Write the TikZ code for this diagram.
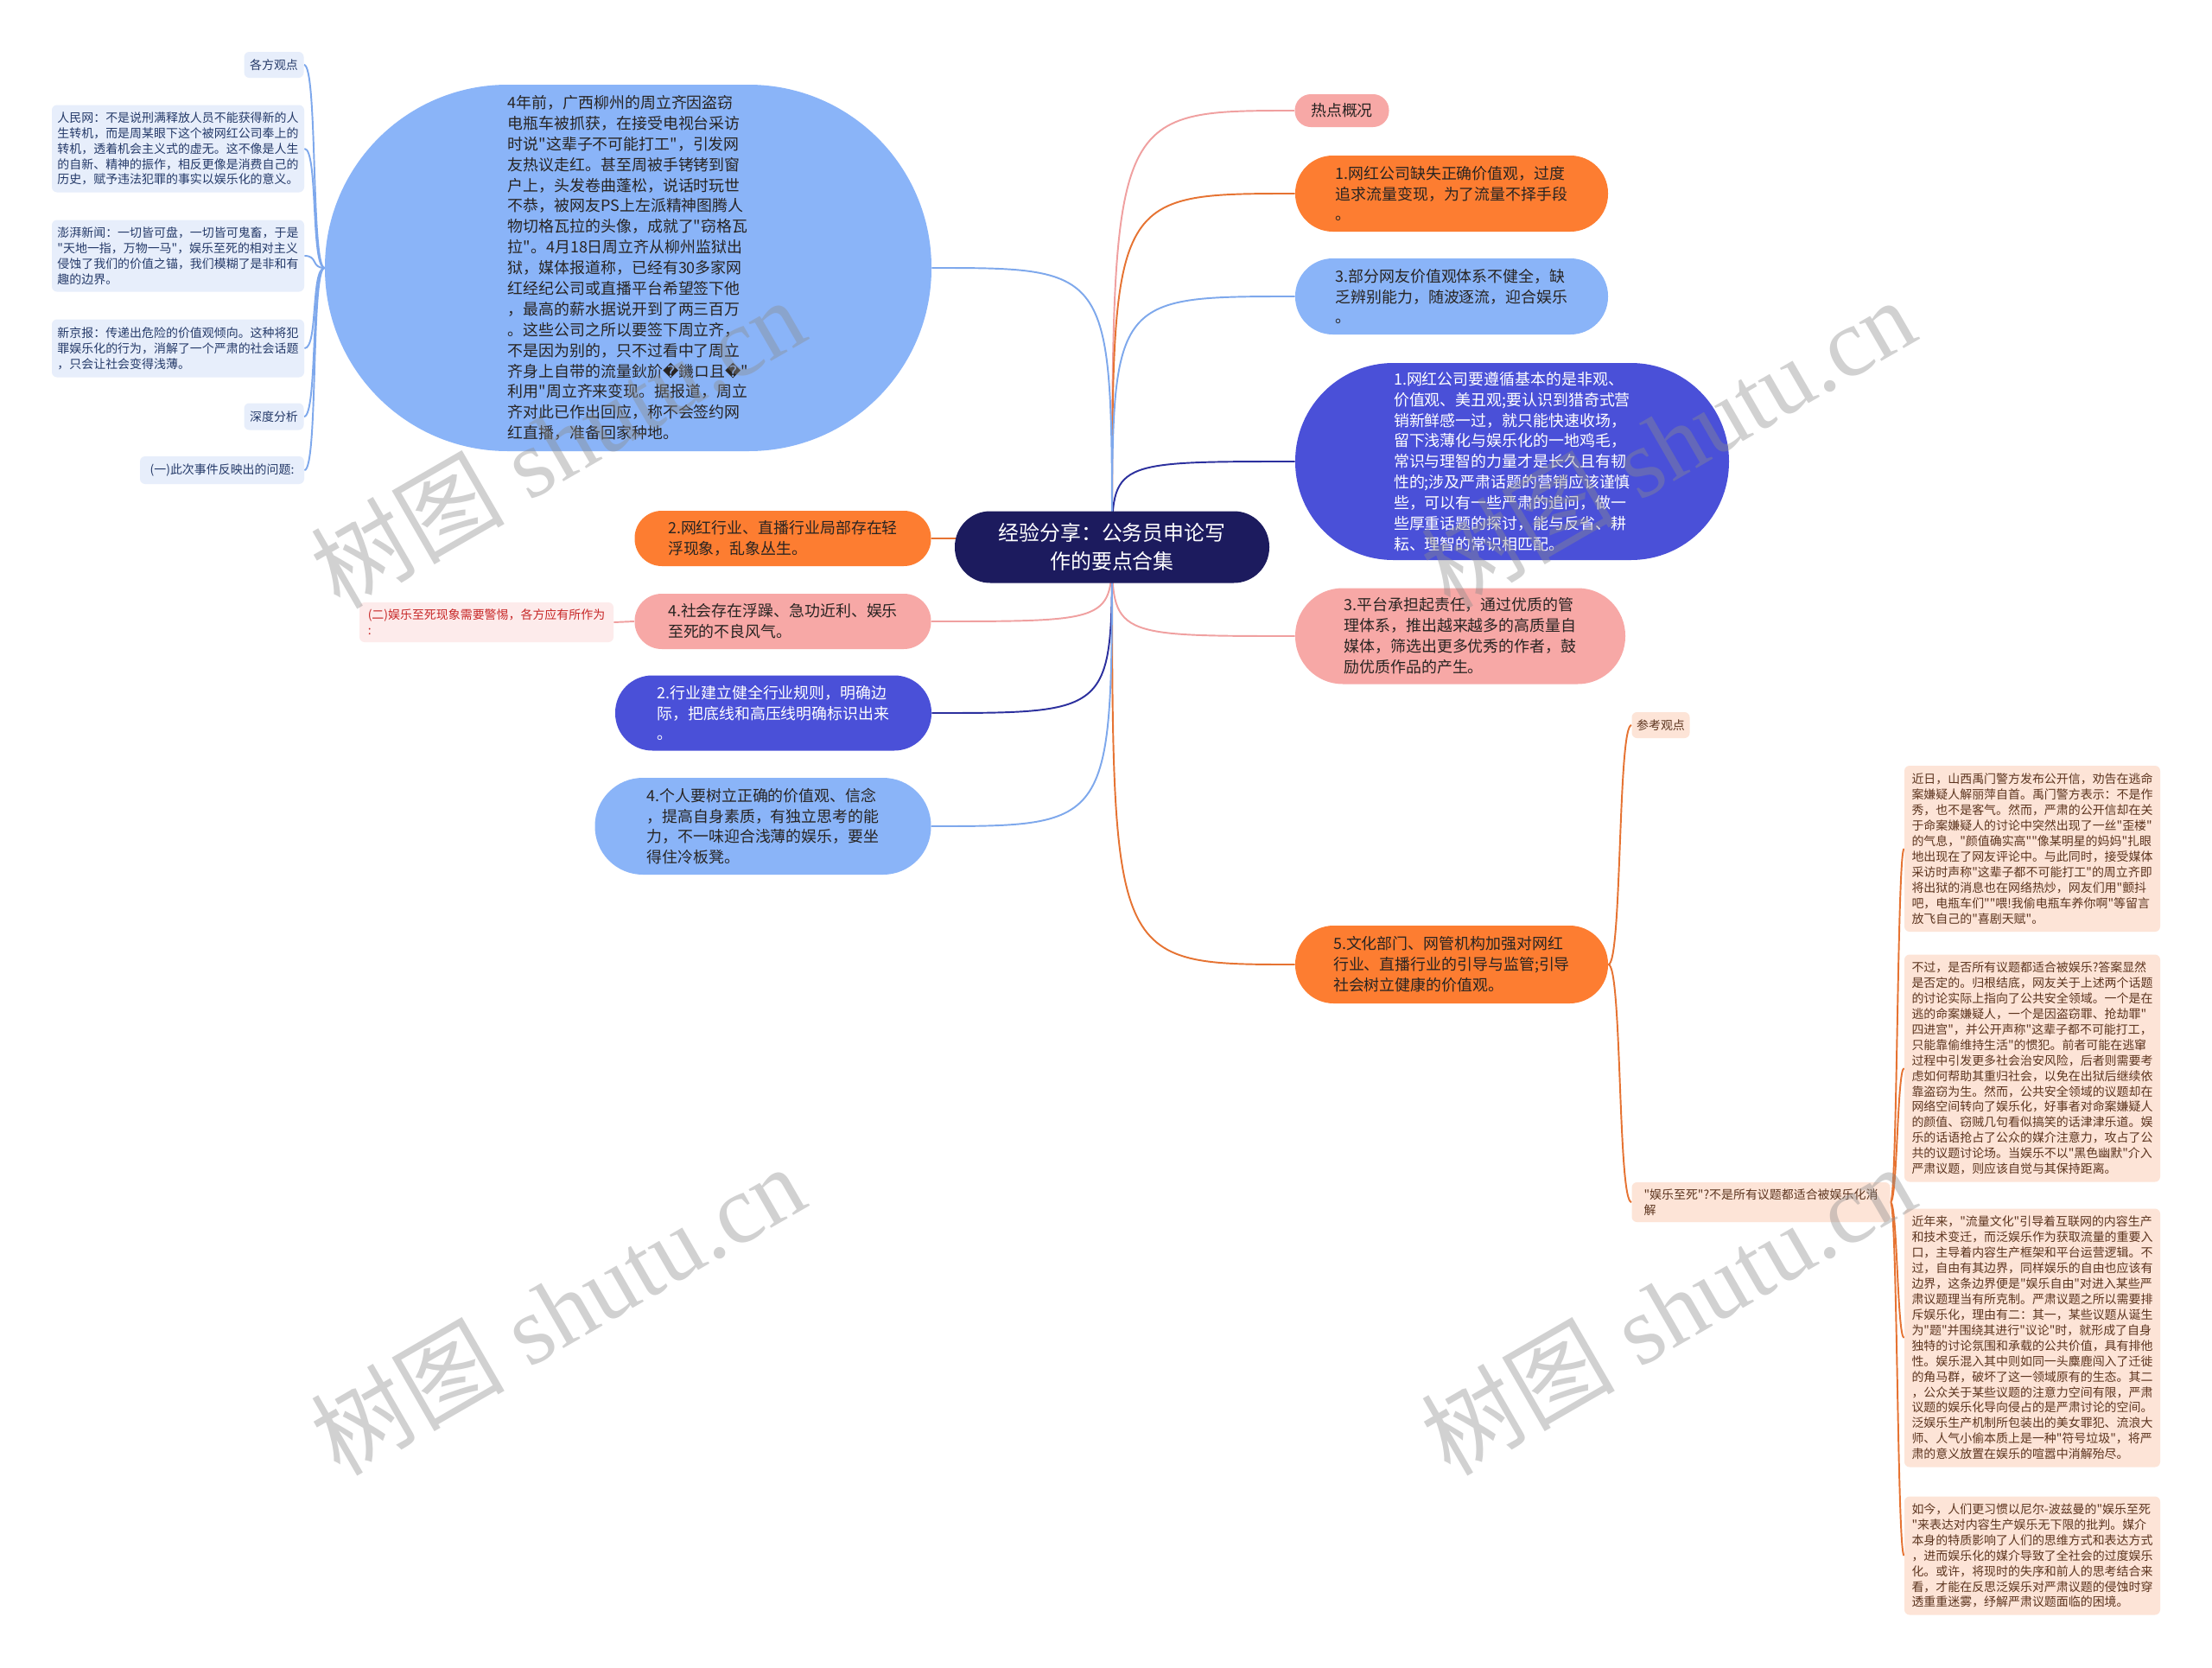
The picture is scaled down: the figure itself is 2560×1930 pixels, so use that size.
\documentclass[tikz,border=0pt]{standalone}
\usepackage{fontspec}
\setmainfont{Noto Sans CJK SC}[Ligatures=TeXOff]
\newfontfamily\wmfont{Liberation Serif}
\newfontfamily\wmcjk{Noto Sans CJK SC}[Ligatures=TeXOff]
\newfontfamily\repfont{DejaVu Sans}

\newcommand{\pxu}{0.02cm}
\newcommand{\badch}{{\repfont\symbol{"FFFD}}}

\definecolor{rootc}{RGB}{28,27,94}
\definecolor{orangec}{RGB}{253,125,49}
\definecolor{orangeln}{RGB}{230,115,50}
\definecolor{pinkc}{RGB}{247,168,166}
\definecolor{pinkln}{RGB}{240,160,160}
\definecolor{ltbluec}{RGB}{138,180,248}
\definecolor{ltblueln}{RGB}{126,168,236}
\definecolor{royalc}{RGB}{74,80,216}
\definecolor{royalln}{RGB}{44,48,158}
\definecolor{paleblue}{RGB}{231,238,251}
\definecolor{bluetx}{RGB}{37,58,105}
\definecolor{peach}{RGB}{253,228,215}
\definecolor{peachtx}{RGB}{92,52,30}
\definecolor{palepink}{RGB}{253,235,235}
\definecolor{redtx}{RGB}{200,40,40}
\definecolor{txdark}{RGB}{40,36,34}

\pgfdeclarelayer{paper}
\pgfdeclarelayer{links}
\pgfsetlayers{paper,links,main}

\tikzset{
  rootbox/.style={rectangle, fill=rootc, text=white, align=center, inner sep=0pt,
    minimum width=364*\pxu, minimum height=83*\pxu, rounded corners=41*\pxu,
    font=\fontsize{13.6pt}{18.7pt}\selectfont},
  lvone/.style={rectangle, inner sep=0pt, align=left, text=txdark,
    font=\fontsize{10.2pt}{13.6pt}\selectfont},
  pill/.style 2 args={minimum width=#1*\pxu, minimum height=#2*\pxu,
    rounded corners=#2*\pxu/2-0.3pt},
  note/.style={rectangle, inner sep=0pt, align=left, rounded corners=6*\pxu,
    font=\fontsize{7.94pt}{10.2pt}\selectfont},
  notebox/.style 2 args={minimum width=#1*\pxu, minimum height=#2*\pxu},
  link/.style={draw=#1, line width=1.1pt},
  wmark/.style={text=black!45, text opacity=0.4, rotate=30, inner sep=0pt,
    font=\wmfont\fontsize{64pt}{70pt}\selectfont}
}

\begin{document}
\begin{tikzpicture}[x=0.02cm, y=-0.02cm]
\useasboundingbox (0,0) rectangle (2560,1930);
\begin{pgfonlayer}{paper}
\fill[white] (0,0) rectangle (2560,1930);
\end{pgfonlayer}

% centre
\node[rootbox] (root) at (1287,633) {经验分享：公务员申论写\\作的要点合集};

% right branches
\node[lvone, pill={109}{38}, fill=pinkc] (hot) at (1553,128) {热点概况};
\node[lvone, pill={362}{88}, fill=orangec] (cause1) at (1680,224) {1.网红公司缺失正确价值观，过度\\追求流量变现，为了流量不择手段\\。};
\node[lvone, pill={362}{88}, fill=ltbluec] (cause3) at (1680,343) {3.部分网友价值观体系不健全，缺\\乏辨别能力，随波逐流，迎合娱乐\\。};
\node[lvone, pill={502}{228}, fill=royalc, text=white] (fix1) at (1750,534) {1.网红公司要遵循基本的是非观、\\价值观、美丑观;要认识到猎奇式营\\销新鲜感一过，就只能快速收场，\\留下浅薄化与娱乐化的一地鸡毛，\\常识与理智的力量才是长久且有韧\\性的;涉及严肃话题的营销应该谨慎\\些，可以有一些严肃的追问，做一\\些厚重话题的探讨，能与反省、耕\\耘、理智的常识相匹配。};
\node[lvone, pill={382}{111}, fill=pinkc] (fix3) at (1690,736) {3.平台承担起责任，通过优质的管\\理体系，推出越来越多的高质量自\\媒体，筛选出更多优秀的作者，鼓\\励优质作品的产生。};
\node[lvone, pill={362}{90}, fill=orangec] (fix5) at (1680,1116) {5.文化部门、网管机构加强对网红\\行业、直播行业的引导与监管;引导\\社会树立健康的价值观。};

% left branches
\node[lvone, pill={702}{424}, fill=ltbluec] (story) at (727,310) {4年前，广西柳州的周立齐因盗窃\\电瓶车被抓获，在接受电视台采访\\时说"这辈子不可能打工"，引发网\\友热议走红。甚至周被手铐铐到窗\\户上，头发卷曲蓬松，说话时玩世\\不恭，被网友PS上左派精神图腾人\\物切格瓦拉的头像，成就了"窃格瓦\\拉"。4月18日周立齐从柳州监狱出\\狱，媒体报道称，已经有30多家网\\红经纪公司或直播平台希望签下他\\，最高的薪水据说开到了两三百万\\。这些公司之所以要签下周立齐，\\不是因为别的，只不过看中了周立\\齐身上自带的流量鈥斺\badch 鐖ロ且\badch"\\利用"周立齐来变现。据报道，周立\\齐对此已作出回应，称不会签约网\\红直播，准备回家种地。};
\node[lvone, pill={343}{64}, fill=orangec] (cause2) at (906,623) {2.网红行业、直播行业局部存在轻\\浮现象，乱象丛生。};
\node[lvone, pill={343}{64}, fill=pinkc] (cause4) at (906,719) {4.社会存在浮躁、急功近利、娱乐\\至死的不良风气。};
\node[lvone, pill={366}{87}, fill=royalc, text=white] (fix2) at (895,825) {2.行业建立健全行业规则，明确边\\际，把底线和高压线明确标识出来\\。};
\node[lvone, pill={389}{112}, fill=ltbluec] (fix4) at (883,956) {4.个人要树立正确的价值观、信念\\，提高自身素质，有独立思考的能\\力，不一味迎合浅薄的娱乐，要坐\\得住冷板凳。};
\node[note, notebox={294}{46}, fill=palepink, text=redtx] (part2) at (563,720) {(二)娱乐至死现象需要警惕，各方应有所作为\\:};

% notes of the story
\node[note, notebox={69}{30}, fill=paleblue, text=bluetx] (views) at (317,75) {各方观点};
\node[note, notebox={292}{101}, fill=paleblue, text=bluetx] (rmw) at (206,172) {人民网：不是说刑满释放人员不能获得新的人\\生转机，而是周某眼下这个被网红公司奉上的\\转机，透着机会主义式的虚无。这不像是人生\\的自新、精神的振作，相反更像是消费自己的\\历史，赋予违法犯罪的事实以娱乐化的意义。};
\node[note, notebox={292}{83}, fill=paleblue, text=bluetx] (pp) at (206,296) {澎湃新闻：一切皆可盘，一切皆可鬼畜，于是\\"天地一指，万物一马"，娱乐至死的相对主义\\侵蚀了我们的价值之锚，我们模糊了是非和有\\趣的边界。};
\node[note, notebox={292}{67}, fill=paleblue, text=bluetx] (xjb) at (206,403) {新京报：传递出危险的价值观倾向。这种将犯\\罪娱乐化的行为，消解了一个严肃的社会话题\\，只会让社会变得浅薄。};
\node[note, notebox={69}{31}, fill=paleblue, text=bluetx] (deep) at (317,482) {深度分析};
\node[note, notebox={190}{32}, fill=paleblue, text=bluetx] (part1) at (257,544) {(一)此次事件反映出的问题:};

% notes of fix5
\node[note, notebox={67}{30}, fill=peach, text=peachtx] (refv) at (1922,839) {参考观点};
\node[note, notebox={299}{46}, fill=peach, text=peachtx] (topic) at (2038,1391) {"娱乐至死"?不是所有议题都适合被娱乐化消\\解};
\node[note, notebox={296}{192}, fill=peach, text=peachtx] (para1) at (2352,982) {近日，山西禹门警方发布公开信，劝告在逃命\\案嫌疑人解丽萍自首。禹门警方表示：不是作\\秀，也不是客气。然而，严肃的公开信却在关\\于命案嫌疑人的讨论中突然出现了一丝"歪楼"\\的气息，"颜值确实高""像某明星的妈妈"扎眼\\地出现在了网友评论中。与此同时，接受媒体\\采访时声称"这辈子都不可能打工"的周立齐即\\将出狱的消息也在网络热炒，网友们用"颤抖\\吧，电瓶车们""喂!我偷电瓶车养你啊"等留言\\放飞自己的"喜剧天赋"。};
\node[note, notebox={296}{263}, fill=peach, text=peachtx] (para2) at (2352,1236) {不过，是否所有议题都适合被娱乐?答案显然\\是否定的。归根结底，网友关于上述两个话题\\的讨论实际上指向了公共安全领域。一个是在\\逃的命案嫌疑人，一个是因盗窃罪、抢劫罪"\\四进宫"，并公开声称"这辈子都不可能打工，\\只能靠偷维持生活"的惯犯。前者可能在逃窜\\过程中引发更多社会治安风险，后者则需要考\\虑如何帮助其重归社会，以免在出狱后继续依\\靠盗窃为生。然而，公共安全领域的议题却在\\网络空间转向了娱乐化，好事者对命案嫌疑人\\的颜值、窃贼几句看似搞笑的话津津乐道。娱\\乐的话语抢占了公众的媒介注意力，攻占了公\\共的议题讨论场。当娱乐不以"黑色幽默"介入\\严肃议题，则应该自觉与其保持距离。};
\node[note, notebox={296}{299}, fill=peach, text=peachtx] (para3) at (2352,1548) {近年来，"流量文化"引导着互联网的内容生产\\和技术变迁，而泛娱乐作为获取流量的重要入\\口，主导着内容生产框架和平台运营逻辑。不\\过，自由有其边界，同样娱乐的自由也应该有\\边界，这条边界便是"娱乐自由"对进入某些严\\肃议题理当有所克制。严肃议题之所以需要排\\斥娱乐化，理由有二：其一，某些议题从诞生\\为"题"并围绕其进行"议论"时，就形成了自身\\独特的讨论氛围和承载的公共价值，具有排他\\性。娱乐混入其中则如同一头麋鹿闯入了迁徙\\的角马群，破坏了这一领域原有的生态。其二\\，公众关于某些议题的注意力空间有限，严肃\\议题的娱乐化导向侵占的是严肃讨论的空间。\\泛娱乐生产机制所包装出的美女罪犯、流浪大\\师、人气小偷本质上是一种"符号垃圾"，将严\\肃的意义放置在娱乐的喧嚣中消解殆尽。};
\node[note, notebox={296}{137}, fill=peach, text=peachtx] (para4) at (2352,1800) {如今，人们更习惯以尼尔-波兹曼的"娱乐至死\\"来表达对内容生产娱乐无下限的批判。媒介\\本身的特质影响了人们的思维方式和表达方式\\，进而娱乐化的媒介导致了全社会的过度娱乐\\化。或许，将现时的失序和前人的思考结合来\\看，才能在反思泛娱乐对严肃议题的侵蚀时穿\\透重重迷雾，纾解严肃议题面临的困境。};

\begin{pgfonlayer}{links}
% from the centre
\draw[link=pinkln] (root.center) .. controls (root.center |- hot.west) .. (hot.west);
\draw[link=orangeln] (root.center) .. controls (root.center |- cause1.west) .. (cause1.west);
\draw[link=ltblueln] (root.center) .. controls (root.center |- cause3.west) .. (cause3.west);
\draw[link=royalln] (root.center) .. controls (root.center |- fix1.west) .. (fix1.west);
\draw[link=pinkln] (root.center) .. controls (root.center |- fix3.west) .. (fix3.west);
\draw[link=orangeln] (root.center) .. controls (root.center |- fix5.west) .. (fix5.west);
\draw[link=ltblueln] (root.center) .. controls (root.center |- story.east) .. (story.east);
\draw[link=orangeln] (root.center) .. controls (root.center |- cause2.east) .. (cause2.east);
\draw[link=pinkln] (root.center) .. controls (root.center |- cause4.east) .. (cause4.east);
\draw[link=royalln] (root.center) .. controls (root.center |- fix2.east) .. (fix2.east);
\draw[link=ltblueln] (root.center) .. controls (root.center |- fix4.east) .. (fix4.east);
\draw[link=pinkln] (cause4.west) -- (part2.east);
% story notes
\draw[link=ltblueln] (story.west) .. controls +(-16,0) and +(16,0) .. (views.east);
\draw[link=ltblueln] (story.west) .. controls +(-16,0) and +(16,0) .. (rmw.east);
\draw[link=ltblueln] (story.west) .. controls +(-16,0) and +(16,0) .. (pp.east);
\draw[link=ltblueln] (story.west) .. controls +(-16,0) and +(16,0) .. (xjb.east);
\draw[link=ltblueln] (story.west) .. controls +(-16,0) and +(16,0) .. (deep.east);
\draw[link=ltblueln] (story.west) .. controls +(-16,0) and +(16,0) .. (part1.east);
% fix5 notes
\draw[link=orangeln] (fix5.east) .. controls +(16,0) and +(-16,0) .. (refv.west);
\draw[link=orangeln] (fix5.east) .. controls +(16,0) and +(-16,0) .. (topic.west);
\draw[link=orangeln] (topic.east) .. controls +(8,0) and +(-8,0) .. (para1.west);
\draw[link=orangeln] (topic.east) .. controls +(8,0) and +(-8,0) .. (para2.west);
\draw[link=orangeln] (topic.east) .. controls +(8,0) and +(-8,0) .. (para3.west);
\draw[link=orangeln] (topic.east) .. controls +(8,0) and +(-8,0) .. (para4.west);
\end{pgfonlayer}

% watermarks
\node[wmark] (wm1) at (645,512) {{\wmcjk 树图} shutu.cn};
\node[wmark] (wm2) at (1930,512) {{\wmcjk 树图} shutu.cn};
\node[wmark] (wm3) at (645,1515) {{\wmcjk 树图} shutu.cn};
\node[wmark] (wm4) at (1930,1515) {{\wmcjk 树图} shutu.cn};
\end{tikzpicture}
\end{document}
